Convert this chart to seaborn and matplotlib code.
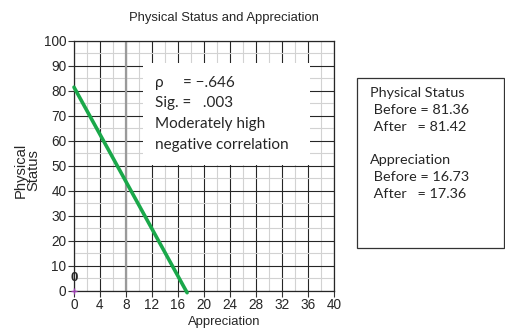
import matplotlib
matplotlib.use("Agg")
import matplotlib.pyplot as plt
import seaborn as sns
import pandas as pd
from matplotlib.patches import Rectangle

# regression line end points (Appreciation, Physical Status)
appreciation = [0, 17.4]
physical = [81.4, -0.8]

x_ticks = list(range(0, 41, 4))
y_ticks = list(range(0, 101, 10))

stats_lines = ["\u03c1     = \u2212.646", "Sig. =   .003", "Moderately high", "negative correlation"]
means_lines = ["Physical Status", " Before = 81.36", " After   = 81.42", "",
               "Appreciation", " Before = 16.73", " After   = 17.36"]

sns.set_style("white")
plt.rcParams['font.family'] = ['Liberation Sans', 'DejaVu Sans']

fig = plt.figure(figsize=(5.06, 3.31), dpi=100)
ax = fig.add_axes([74 / 506, 1 - 290.7 / 331, 260 / 506, 250 / 331])

df = pd.DataFrame({"Appreciation": appreciation, "Physical": physical})
sns.lineplot(data=df, x="Appreciation", y="Physical", ax=ax, color="#1aa84a",
             linewidth=2.6, clip_on=False, zorder=4)

ax.set_xlim(0, 40)
ax.set_ylim(0, 100)
ax.set_xticks(x_ticks)
ax.set_yticks(y_ticks)
ax.set_xticks(range(0, 41, 2), minor=True)
ax.set_yticks(range(0, 101, 5), minor=True)
ax.grid(which="major", color="#262626", linewidth=0.8)
ax.grid(which="minor", color="#d2d2d2", linewidth=0.8)
ax.axvline(8, color="#9a9a9a", linewidth=1.6, zorder=1)
ax.set_axisbelow(True)
ax.tick_params(which="major", length=4, width=0.8, color="#333333", labelsize=9.8,
               pad=1.5, direction="out", bottom=True, left=True)
ax.tick_params(which="minor", length=0)
for s in ax.spines.values():
    s.set_color("#262626")
    s.set_linewidth(0.9)
ax.set_xlabel("")
ax.set_ylabel("")

# zero marker
ax.plot([0], [0], marker="+", color="#9b3fb0", markersize=4, clip_on=False, zorder=5)
ax.text(0, 5, "0", ha="center", va="center", fontsize=9.5, fontweight="bold", zorder=5)

# white stats box inside plot
ax.add_patch(Rectangle((10.6, 50.3), 25.7, 40.8, facecolor="white", edgecolor="none", zorder=3))
for i, line in enumerate(stats_lines):
    fig.text(155 / 506, 1 - (83 + 20.5 * i) / 331, line, fontsize=11,
             family=["Lato", "DejaVu Sans"], va="center", ha="left")

fig.text(224 / 506, 1 - 18 / 331, "Physical Status and Appreciation",
         ha="center", va="center", fontsize=9.4)
fig.text(224 / 506, 1 - 322 / 331, "Appreciation", ha="center", va="center", fontsize=9.4)
fig.text(27 / 506, 1 - 170 / 331, "Physical\nStatus", ha="center", va="center",
         rotation=90, fontsize=10.6, linespacing=0.95)

# means box on the right
fig.patches.append(Rectangle((357 / 506, 1 - 248 / 331), 147 / 506, 170 / 331,
                             transform=fig.transFigure, facecolor="white",
                             edgecolor="#333333", linewidth=0.9))
for i, line in enumerate(means_lines):
    fig.text(370 / 506, 1 - (93 + 16.8 * i) / 331, line, fontsize=10.4,
             family=["Lato", "DejaVu Sans"], va="center", ha="left")

fig.savefig("out.png", dpi=100)
